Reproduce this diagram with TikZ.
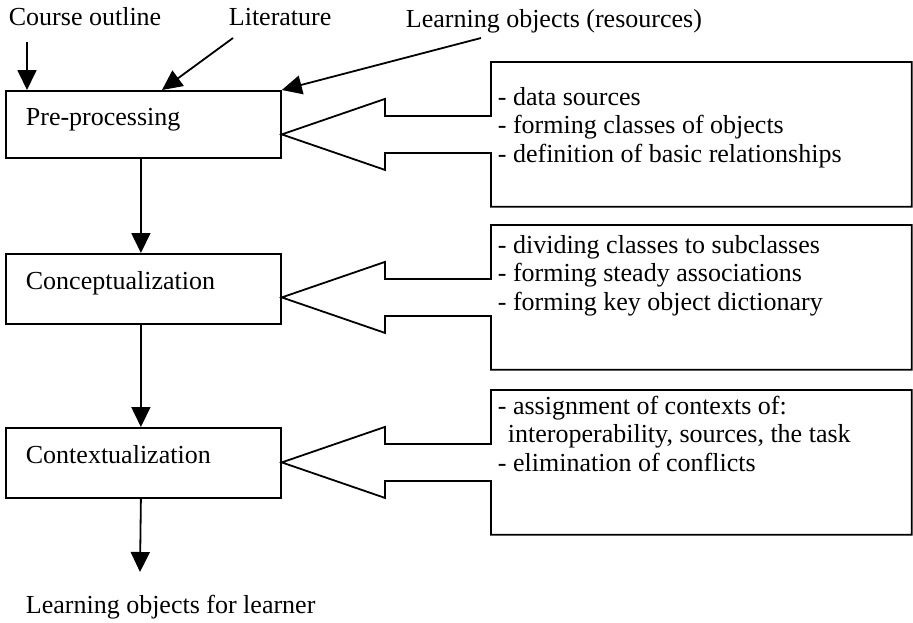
\documentclass[tikz,border=0pt]{standalone}
\usepackage{fontspec}
\setmainfont{Liberation Serif}
\usetikzlibrary{arrows.meta,calc}
% hollow block arrow joined to the left side of a note box, pointing at a stage box
\newcommand\feedarrow[2]{%
  \draw[fill=white] (#1.north west) -- ([yshift=18.5pt]#1.west)
    -- ([xshift=-106pt,yshift=18.5pt]#1.west)
    -- ([xshift=-106pt,yshift=35.5pt]#1.west)
    -- (#2.east |- #1.west)
    -- ([xshift=-106pt,yshift=-35.5pt]#1.west)
    -- ([xshift=-106pt,yshift=-18.5pt]#1.west)
    -- ([yshift=-18.5pt]#1.west)
    -- (#1.south west) -- (#1.south east) -- (#1.north east) -- cycle;}
\begin{document}
\begin{tikzpicture}[x=1pt,y=-1pt,
  every node/.style={font=\fontsize{26}{28.5}\selectfont, inner sep=0pt},
  line width=1.8pt,
  arr/.style={line width=1.8pt, -{Triangle[width=19pt,length=20pt]}},
  stage/.style={draw, anchor=north west, minimum width=275pt, text width=235pt,
    inner xsep=20pt, inner ysep=0pt, align=left, text height=17pt, text depth=15pt},
  note/.style={anchor=base west, align=left},
  srcbox/.style={anchor=north west, minimum width=419pt, minimum height=143pt}
]
\useasboundingbox (0,0) rectangle (913,622);

% inputs
\node[anchor=base west] (co)  at (8,25)   {Course outline};
\node[anchor=base west] (lit) at (228,25) {Literature};
\node[anchor=base west] (lo)  at (405,27) {Learning objects (resources)};

% stages
\node[stage, minimum height=67pt] (pre) at (5,90)  {Pre-processing};
\node[stage, minimum height=70pt] (con) at (5,253) {Conceptualization};
\node[stage, minimum height=70pt] (ctx) at (5,427) {Contextualization};

% output
\node[anchor=base west] (out) at (25,613) {Learning objects for learner};
\coordinate (outEnd) at (140,572);

% input arrows
\coordinate (coTail)  at (27,42);
\coordinate (litTail) at (233,38);
\coordinate (loTail)  at (481,38);
\draw[arr] (coTail) -- (pre.north west -| coTail);
\draw[arr] (litTail) -- (pre.north -| 162,0);
\draw[arr] (loTail) -- (pre.north east);

% flow between stages
\draw[arr] ([xshift=-2.5pt]pre.south) -- ([xshift=-2.5pt]con.north);
\draw[arr] ([xshift=-2.5pt]con.south) -- ([xshift=-2.5pt]ctx.north);
\draw[arr] ([xshift=-2.5pt]ctx.south) -- (outEnd);

% note boxes with block arrows
\node[srcbox] (n1) at (491,62)  {};
\node[srcbox] (n2) at (491,225) {};
\node[srcbox] (n3) at (491,390) {};
\feedarrow{n1}{pre}
\feedarrow{n2}{con}
\feedarrow{n3}{ctx}

% note texts (anchored at the baseline of their last line)
\node[note] (t1) at (497,162) {- data sources\\- forming classes of objects\\- definition of basic relationships};
\node[note] (t2) at (497,310) {- dividing classes to subclasses\\- forming steady associations\\- forming key object dictionary};
\node[note] (t3) at (497,471) {- assignment of contexts of:\\\hspace*{10pt}interoperability, sources, the task\\- elimination of conflicts};
\end{tikzpicture}
\end{document}
